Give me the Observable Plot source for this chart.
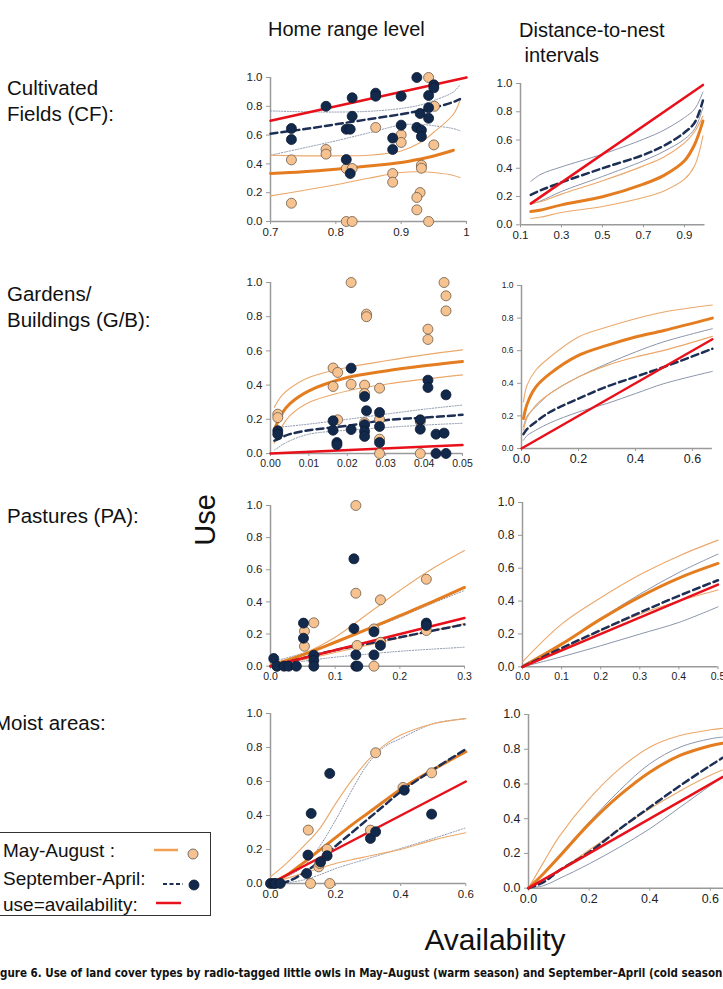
<!DOCTYPE html>
<html><head><meta charset="utf-8">
<script src="https://cdn.jsdelivr.net/npm/d3@7"></script>
<script src="https://cdn.jsdelivr.net/npm/@observablehq/plot@0.6"></script>
<style>
html,body{margin:0;padding:0;background:#fff}
body{width:723px;height:989px;position:relative;overflow:hidden;font-family:"Liberation Sans",Arial,sans-serif;color:#111}
.t{position:absolute;white-space:nowrap}
.row{font-size:20.5px;line-height:26px}
.panel{position:absolute;overflow:visible}
#legend{position:absolute;left:-1px;top:832px;width:212px;height:84px;border:1px solid #333;box-sizing:border-box}
#legend .l{position:absolute;left:3px;font-size:19px;line-height:27px;white-space:nowrap}
#caption{position:absolute;top:966px;white-space:nowrap;font-weight:bold;font-family:"Liberation Sans Narrow","DejaVu Sans Condensed","Liberation Sans",sans-serif;font-size:13px;color:#111}
</style></head><body>

<div class="t" style="left:268px;top:18px;font-size:20px">Home range level</div>
<div class="t" style="left:519px;top:18px;font-size:20px;line-height:25px">Distance-to-nest<br>&nbsp;intervals</div>

<div class="t row" style="left:7px;top:75px">Cultivated<br>Fields (CF):</div>
<div class="t row" style="left:7px;top:281px">Gardens/<br>Buildings (G/B):</div>
<div class="t row" style="left:7px;top:503px">Pastures (PA):</div>
<div class="t row" style="left:-6px;top:710px">Moist areas:</div>

<div class="t" style="left:205px;top:520px;font-size:29px;transform:translate(-50%,-50%) rotate(-90deg)">Use</div>
<div class="t" style="left:495px;top:940px;font-size:30px;transform:translate(-50%,-50%)">Availability</div>

<div id="legend">
  <div class="l" style="top:4px">May-August :</div>
  <div class="l" style="top:32px">September-April:</div>
  <div class="l" style="top:58px">use=availability:</div>
  <svg width="212" height="84" style="position:absolute;left:0;top:0">
    <line x1="154" x2="178" y1="17" y2="17" stroke="#f0a050" stroke-width="2.5"/>
    <circle cx="193" cy="21" r="5" fill="#f6c290" stroke="#555" stroke-width="0.8"/>
    <line x1="163" x2="183" y1="51" y2="51" stroke="#1d2f55" stroke-width="2" stroke-dasharray="4,2.5"/>
    <circle cx="194" cy="52" r="5" fill="#13294b" stroke="#0b1a33" stroke-width="0.8"/>
    <line x1="156" x2="181" y1="70" y2="70" stroke="#e8101a" stroke-width="2.5"/>
  </svg>
</div>

<div id="caption"><span id="c1">Fi</span><span id="c2">gure 6. Use of land cover types by radio-tagged little owls in May–August (warm season) and September–April (cold season</span><span id="c3">).</span></div>

<script>
// ---------- data ----------
const yTicks = [0, 0.2, 0.4, 0.6, 0.8, 1.0];

// Cultivated fields, home range level
const cfHomeGrid    = [0.7, 0.75, 0.8, 0.85, 0.9, 0.93, 0.95, 0.98, 0.99];
const cfHomeWarmFit = [0.333, 0.345, 0.363, 0.385, 0.41, 0.435, 0.455, 0.495, null];
const cfHomeWarmHi  = [0.46, 0.456, 0.456, 0.46, 0.49, 0.55, 0.62, 0.745, 0.84];
const cfHomeWarmLo  = [0.178, 0.215, 0.255, 0.30, 0.34, 0.345, 0.34, 0.32, 0.305];
const cfHomeColdFit = [0.61, 0.64, 0.675, 0.71, 0.745, 0.77, 0.79, 0.83, 0.85];
const cfHomeColdHi  = [0.768, 0.762, 0.76, 0.765, 0.785, 0.81, 0.84, 0.9, 0.95];
const cfHomeColdLo  = [0.46, 0.51, 0.56, 0.615, 0.67, 0.675, 0.665, 0.645, 0.63];
const cfHomeRed     = [0.7, 1.0];
const cfWarmX = [0.732,0.732,0.785,0.785,0.816,0.825,0.816,0.825,0.861,0.887,0.887,0.90,0.90,0.942,0.951,0.950,0.931,0.931,0.929,0.924,0.924,0.942];
const cfWarmY = [0.428,0.127,0.50,0.468,0.368,0.368,0,0,0.653,0.333,0.273,0.602,0.549,1.0,0.80,0.532,0.391,0.37,0.201,0.167,0.081,0];
const cfColdX = [0.732,0.732,0.785,0.816,0.822,0.825,0.825,0.816,0.822,0.861,0.861,0.90,0.90,0.887,0.887,0.924,0.924,0.929,0.931,0.931,0.942,0.942,0.942,0.950,0.950];
const cfColdY = [0.646,0.569,0.80,0.641,0.641,0.859,0.731,0.43,0.333,0.891,0.87,0.87,0.669,0.579,0.50,1.0,0.653,0.75,0.634,0.59,0.875,0.79,0.717,0.949,0.928];

// Cultivated fields, distance-to-nest
const cfDistGrid    = [0.15, 0.2, 0.3, 0.5, 0.7, 0.8, 0.9, 0.95, 0.99];
const cfDistWarmFit = [0.094, 0.105, 0.141, 0.198, 0.288, 0.35, 0.453, 0.57, 0.735];
const cfDistWarmHi  = [0.15, 0.165, 0.217, 0.311, 0.417, 0.48, 0.58, 0.66, 0.77];
const cfDistWarmLo  = [0.045, 0.055, 0.087, 0.13, 0.193, 0.24, 0.323, 0.42, 0.63];
const cfDistColdFit = [0.212, 0.245, 0.30, 0.40, 0.495, 0.56, 0.653, 0.724, 0.88];
const cfDistColdHi  = [0.307, 0.358, 0.41, 0.50, 0.606, 0.67, 0.759, 0.82, 0.94];
const cfDistColdLo  = [0.146, 0.17, 0.236, 0.342, 0.453, 0.52, 0.606, 0.68, 0.83];
const cfDistRed     = [0.15, 0.99];

// Gardens / buildings, home range level
const gbHomeGrid    = [0.001, 0.002, 0.003, 0.005, 0.01, 0.02, 0.03, 0.04, 0.05];
const gbHomeWarmFit = [0.14, 0.19, 0.235, 0.29, 0.366, 0.444, 0.483, 0.513, 0.538];
const gbHomeWarmHi  = [0.27, 0.31, 0.34, 0.38, 0.444, 0.503, 0.542, 0.577, 0.606];
const gbHomeWarmLo  = [0.06, 0.113, 0.16, 0.22, 0.298, 0.366, 0.405, 0.435, 0.46];
const gbHomeColdFit = [0.075, 0.084, 0.095, 0.113, 0.136, 0.162, 0.195, 0.21, 0.226];
const gbHomeColdHi  = [0.145, 0.152, 0.155, 0.16, 0.172, 0.20, 0.23, 0.259, 0.283];
const gbHomeColdLo  = [0.02, 0.035, 0.05, 0.074, 0.113, 0.136, 0.152, 0.166, 0.177];
const gbHomeRed     = [0, 0.05];
const gbWarmX = [0.0019,0.0019,0.0163,0.0175,0.0163,0.0175,0.021,0.021,0.025,0.025,0.0245,0.0245,0.0245,0.0284,0.0284,0.0284,0.0284,0.039,0.039,0.041,0.041,0.0452,0.0457,0.0457];
const gbWarmY = [0.23,0.21,0.50,0.474,0.392,0.197,1.0,0.405,0.815,0.80,0.40,0.351,0.18,0.382,0.20,0.084,0.0,0.0,0.187,0.727,0.667,1.0,0.922,0.834];
const gbColdX = [0.0019,0.0019,0.0163,0.0163,0.0173,0.0173,0.021,0.021,0.0245,0.025,0.0245,0.0245,0.0245,0.0284,0.0284,0.0284,0.039,0.039,0.041,0.041,0.0431,0.0431,0.0452,0.0457,0.0457];
const gbColdY = [0.133,0.113,0.191,0.136,0.064,0.051,0.499,0.14,0.333,0.25,0.168,0.129,0.10,0.24,0.158,0.064,0.197,0.142,0.429,0.386,0.0,0.113,0.119,0.0,0.343];

// Gardens / buildings, distance-to-nest
const gbDistGrid    = [0.007, 0.02, 0.05, 0.1, 0.2, 0.3, 0.4, 0.5, 0.67];
const gbDistWarmFit = [0.184, 0.275, 0.377, 0.459, 0.571, 0.633, 0.684, 0.724, 0.80];
const gbDistWarmHi  = [0.286, 0.39, 0.48, 0.561, 0.684, 0.745, 0.796, 0.837, 0.88];
const gbDistWarmLo  = [0.112, 0.19, 0.265, 0.337, 0.439, 0.51, 0.561, 0.602, 0.688];
const gbDistColdFit = [0.088, 0.12, 0.163, 0.224, 0.306, 0.38, 0.44, 0.50, 0.612];
const gbDistColdHi  = [0.133, 0.2, 0.255, 0.337, 0.439, 0.52, 0.592, 0.655, 0.735];
const gbDistColdLo  = [0.051, 0.08, 0.112, 0.157, 0.224, 0.276, 0.337, 0.398, 0.473];
const gbDistRed     = [0, 0.67];

// Pastures, home range level
const paHomeGrid    = [0, 0.05, 0.1, 0.15, 0.2, 0.25, 0.3];
const paHomeWarmFit = [0, 0.07, 0.149, 0.23, 0.315, 0.40, 0.49];
const paHomeWarmHi  = [0.015, 0.077, 0.18, 0.325, 0.471, 0.606, 0.72];
const paHomeWarmLo  = [0, 0.04, 0.085, 0.13, 0.175, 0.22, 0.265];
const paHomeColdFit = [0, 0.05, 0.10, 0.14, 0.18, 0.22, 0.26];
const paHomeColdHi  = [0.025, 0.08, 0.149, 0.225, 0.305, 0.39, 0.471];
const paHomeColdLo  = [0, 0.03, 0.056, 0.075, 0.093, 0.106, 0.118];
const paHomeRed     = [0, 0.3];
const paWarmX = [0.01,0.0525,0.0525,0.067,0.132,0.132,0.134,0.16,0.16,0.17,0.17,0.241,0.241];
const paWarmY = [0.0,0.218,0.124,0.27,1.0,0.454,0.129,0.0,0.232,0.413,0.149,0.541,0.222];
const paColdX = [0.005,0.01,0.021,0.028,0.04,0.051,0.051,0.067,0.067,0.067,0.129,0.129,0.132,0.132,0.135,0.16,0.16,0.17,0.241,0.241];
const paColdY = [0.048,0.0,0.0,0.0,0.0,0.268,0.174,0.068,0.035,0.0,0.668,0.234,0.07,0.0,0.0,0.214,0.07,0.129,0.268,0.253];

// Pastures, distance-to-nest
const paDistGrid    = [0, 0.1, 0.2, 0.3, 0.4, 0.5];
const paDistWarmFit = [0, 0.138, 0.29, 0.426, 0.54, 0.629];
const paDistWarmHi  = [0.03, 0.26, 0.42, 0.56, 0.675, 0.771];
const paDistWarmLo  = [0, 0.107, 0.22, 0.32, 0.40, 0.467];
const paDistColdFit = [0, 0.114, 0.223, 0.33, 0.432, 0.527];
const paDistColdHi  = [0.01, 0.138, 0.294, 0.442, 0.574, 0.686];
const paDistColdLo  = [0, 0.061, 0.128, 0.199, 0.27, 0.365];
const paDistRed     = [0, 0.5];

// Moist areas, home range level
const maHomeGrid    = [0, 0.05, 0.1, 0.15, 0.2, 0.25, 0.3, 0.35, 0.4, 0.5, 0.6];
const maHomeWarmFit = [0, 0.05, 0.12, 0.195, 0.27, 0.345, 0.415, 0.485, 0.555, 0.67, 0.775];
const maHomeWarmHi  = [0.04, 0.12, 0.216, 0.32, 0.47, 0.608, 0.725, 0.814, 0.873, 0.94, 0.97];
const maHomeWarmLo  = [0, 0.03, 0.06, 0.09, 0.118, 0.14, 0.16, 0.18, 0.2, 0.255, 0.298];
const maHomeColdFit = [0, 0.01, 0.06, 0.13, 0.22, 0.30, 0.38, 0.46, 0.54, 0.67, 0.79];
const maHomeColdHi  = [0, 0.04, 0.098, 0.216, 0.373, 0.549, 0.706, 0.804, 0.853, 0.94, 0.97];
const maHomeColdLo  = [0, 0.005, 0.02, 0.05, 0.088, 0.118, 0.147, 0.176, 0.206, 0.265, 0.327];
const maHomeRed     = [0, 0.6];
const maWarmX = [0.116,0.123,0.148,0.151,0.174,0.182,0.307,0.323,0.407,0.495];
const maWarmY = [0.314,0.0,0.098,0.118,0.202,0.0,0.314,0.769,0.565,0.651];
const maColdX = [0.0,0.01,0.015,0.03,0.111,0.115,0.125,0.154,0.174,0.182,0.307,0.323,0.411,0.495];
const maColdY = [0,0,0,0,0.059,0.167,0.412,0.127,0.163,0.647,0.265,0.304,0.549,0.408];

// Moist areas, distance-to-nest
const maDistGrid    = [0, 0.05, 0.1, 0.2, 0.3, 0.4, 0.5, 0.6, 0.64];
const maDistWarmFit = [0, 0.085, 0.178, 0.37, 0.534, 0.668, 0.764, 0.82, 0.835];
const maDistWarmHi  = [0, 0.15, 0.294, 0.514, 0.687, 0.812, 0.879, 0.912, 0.92];
const maDistWarmLo  = [0, 0.05, 0.10, 0.22, 0.34, 0.457, 0.56, 0.65, 0.68];
const maDistColdFit = [0, 0.035, 0.10, 0.207, 0.34, 0.466, 0.59, 0.706, 0.75];
const maDistColdHi  = [0, 0.09, 0.188, 0.38, 0.562, 0.716, 0.812, 0.86, 0.87];
const maDistColdLo  = [0, 0.015, 0.054, 0.14, 0.236, 0.342, 0.466, 0.591, 0.64];
const maDistRed     = [0, 0.64];

// ---------- styles ----------
const C = {
  warmFit: "#e47d20", warmCI: "#eba86a", coldFit: "#1d2f55", coldCI: "#8b95aa",
  red: "#e8101a", warmPt: "#f6c290", warmPtStroke: "#6b5a4a", coldPt: "#13294b", coldPtStroke: "#0b1a33",
  axis: "#9a9a9a", text: "#222"
};

const series = (grid, ys) => grid.map((x, i) => ({x, y: ys[i]})).filter(d => d.y != null);
const pts = (xs, ys) => xs.map((x, i) => ({x, y: ys[i]}));

function panel(cfg) {
  const ml = 40, mr = 15, mt = 10, mb = 25;
  const w = cfg.x1 - cfg.x0, h = cfg.yB - cfg.yT;
  const dotted = cfg.home ? "1.2,1.6" : null;
  const marks = [
    Plot.axisY({ticks: yTicks, tickFormat: d => d.toFixed(1), tickSize: 4, tickPadding: 4, stroke: C.axis, fill: C.text, fontSize: cfg.fsY, label: null}),
    Plot.axisX({ticks: cfg.xTicks, tickFormat: cfg.xFmt, tickSize: 3, tickPadding: 3, stroke: C.axis, fill: C.text, fontSize: cfg.fsX, label: null}),
    Plot.ruleX([cfg.xDom[0]], {stroke: C.axis, strokeWidth: 1.5}),
    Plot.ruleY([0], {stroke: C.axis, strokeWidth: 1.5}),
    Plot.line(series(cfg.grid, cfg.coldHi), {x: "x", y: "y", stroke: C.coldCI, strokeWidth: 1, strokeDasharray: dotted, curve: "catmull-rom"}),
    Plot.line(series(cfg.grid, cfg.coldLo), {x: "x", y: "y", stroke: C.coldCI, strokeWidth: 1, strokeDasharray: dotted, curve: "catmull-rom"}),
    Plot.line(series(cfg.grid, cfg.warmHi), {x: "x", y: "y", stroke: C.warmCI, strokeWidth: 1.1, curve: "catmull-rom"}),
    Plot.line(series(cfg.grid, cfg.warmLo), {x: "x", y: "y", stroke: C.warmCI, strokeWidth: 1.1, curve: "catmull-rom"}),
    Plot.line(series(cfg.grid, cfg.warmFit), {x: "x", y: "y", stroke: C.warmFit, strokeWidth: 3, curve: "catmull-rom"}),
    Plot.line(series(cfg.grid, cfg.coldFit), {x: "x", y: "y", stroke: C.coldFit, strokeWidth: 2.5, strokeDasharray: "7,4", curve: "catmull-rom"}),
    Plot.line(cfg.red.map(v => ({x: v, y: v})), {x: "x", y: "y", stroke: C.red, strokeWidth: 2.5})
  ];
  if (cfg.warmPts) marks.push(Plot.dot(cfg.warmPts, {x: "x", y: "y", r: 5, fill: C.warmPt, stroke: C.warmPtStroke, strokeWidth: 0.8}));
  if (cfg.coldPts) marks.push(Plot.dot(cfg.coldPts, {x: "x", y: "y", r: 5, fill: C.coldPt, stroke: C.coldPtStroke, strokeWidth: 0.8}));
  const svg = Plot.plot({
    width: w + ml + mr, height: h + mt + mb,
    marginLeft: ml, marginRight: mr, marginTop: mt, marginBottom: mb,
    x: {domain: cfg.xDom, axis: null, label: null},
    y: {domain: [0, 1], axis: null, label: null},
    style: {fontFamily: '"Liberation Sans", Arial, sans-serif', overflow: "visible", background: "transparent"},
    marks
  });
  svg.classList.add("panel");
  svg.style.left = (cfg.x0 - ml) + "px";
  svg.style.top = (cfg.yT - mt) + "px";
  svg.style.position = "absolute";
  document.body.appendChild(svg);
}

const f1 = d => d.toFixed(1);
panel({x0: 270, x1: 466, yT: 76.7, yB: 220.7, xDom: [0.7, 1], xTicks: [0.7, 0.8, 0.9, 1], xFmt: d => d === 1 ? "1" : f1(d), fsX: 11.5, fsY: 11.5, home: true,
  grid: cfHomeGrid, warmFit: cfHomeWarmFit, warmHi: cfHomeWarmHi, warmLo: cfHomeWarmLo, coldFit: cfHomeColdFit, coldHi: cfHomeColdHi, coldLo: cfHomeColdLo, red: cfHomeRed,
  warmPts: pts(cfWarmX, cfWarmY), coldPts: pts(cfColdX, cfColdY)});
panel({x0: 520, x1: 704.5, yT: 82.7, yB: 224, xDom: [0.1, 1.0], xTicks: [0.1, 0.3, 0.5, 0.7, 0.9], xFmt: f1, fsX: 11.5, fsY: 11.5, home: false,
  grid: cfDistGrid, warmFit: cfDistWarmFit, warmHi: cfDistWarmHi, warmLo: cfDistWarmLo, coldFit: cfDistColdFit, coldHi: cfDistColdHi, coldLo: cfDistColdLo, red: cfDistRed});
panel({x0: 270, x1: 462, yT: 281.7, yB: 452.7, xDom: [0, 0.05], xTicks: [0, 0.01, 0.02, 0.03, 0.04, 0.05], xFmt: d => d.toFixed(2), fsX: 10.5, fsY: 11.5, home: true,
  grid: gbHomeGrid, warmFit: gbHomeWarmFit, warmHi: gbHomeWarmHi, warmLo: gbHomeWarmLo, coldFit: gbHomeColdFit, coldHi: gbHomeColdHi, coldLo: gbHomeColdLo, red: gbHomeRed,
  warmPts: pts(gbWarmX, gbWarmY), coldPts: pts(gbColdX, gbColdY)});
panel({x0: 520.7, x1: 711.6, yT: 285, yB: 448, xDom: [0, 0.67], xTicks: [0, 0.2, 0.4, 0.6], xFmt: f1, fsX: 12.5, fsY: 8.5, home: false,
  grid: gbDistGrid, warmFit: gbDistWarmFit, warmHi: gbDistWarmHi, warmLo: gbDistWarmLo, coldFit: gbDistColdFit, coldHi: gbDistColdHi, coldLo: gbDistColdLo, red: gbDistRed});
panel({x0: 270, x1: 464, yT: 505, yB: 665.7, xDom: [0, 0.3], xTicks: [0, 0.1, 0.2, 0.3], xFmt: f1, fsX: 10.5, fsY: 11.5, home: true,
  grid: paHomeGrid, warmFit: paHomeWarmFit, warmHi: paHomeWarmHi, warmLo: paHomeWarmLo, coldFit: paHomeColdFit, coldHi: paHomeColdHi, coldLo: paHomeColdLo, red: paHomeRed,
  warmPts: pts(paWarmX, paWarmY), coldPts: pts(paColdX, paColdY)});
panel({x0: 521.7, x1: 717.2, yT: 501.7, yB: 666, xDom: [0, 0.5], xTicks: [0, 0.1, 0.2, 0.3, 0.4, 0.5], xFmt: f1, fsX: 10.5, fsY: 12, home: false,
  grid: paDistGrid, warmFit: paDistWarmFit, warmHi: paDistWarmHi, warmLo: paDistWarmLo, coldFit: paDistColdFit, coldHi: paDistColdHi, coldLo: paDistColdLo, red: paDistRed});
panel({x0: 270, x1: 465.3, yT: 713.3, yB: 883.3, xDom: [0, 0.6], xTicks: [0, 0.2, 0.4, 0.6], xFmt: f1, fsX: 11.5, fsY: 11.5, home: true,
  grid: maHomeGrid, warmFit: maHomeWarmFit, warmHi: maHomeWarmHi, warmLo: maHomeWarmLo, coldFit: maHomeColdFit, coldHi: maHomeColdHi, coldLo: maHomeColdLo, red: maHomeRed,
  warmPts: pts(maWarmX, maWarmY), coldPts: pts(maColdX, maColdY)});
panel({x0: 528.3, x1: 725.3, yT: 714, yB: 887.7, xDom: [0, 0.65], xTicks: [0, 0.2, 0.4, 0.6], xFmt: f1, fsX: 12.5, fsY: 12.5, home: false,
  grid: maDistGrid, warmFit: maDistWarmFit, warmHi: maDistWarmHi, warmLo: maDistWarmLo, coldFit: maDistColdFit, coldHi: maDistColdHi, coldLo: maDistColdLo, red: maDistRed});

// caption fit: visible part spans the full page width, leading "Fi" is cut off
const cap = document.getElementById("caption");
const mid = document.getElementById("c2");
const fs = 13 * 723 / mid.getBoundingClientRect().width;
cap.style.fontSize = fs + "px";
cap.style.left = (-document.getElementById("c1").getBoundingClientRect().width) + "px";
</script>
</body></html>
